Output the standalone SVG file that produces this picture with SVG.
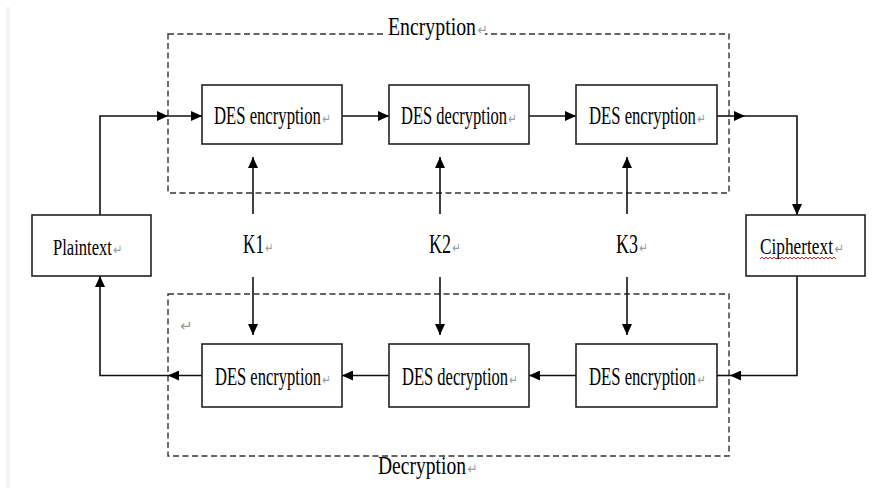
<svg xmlns="http://www.w3.org/2000/svg" width="872" height="488" viewBox="0 0 872 488">
  <style>
    .box { fill: #ffffff; stroke: #222222; stroke-width: 1.6; }
    .dash { fill: none; stroke: #333333; stroke-width: 1.4; stroke-dasharray: 6 3.5; }
    .lbl { font-family: "Liberation Serif", "Times New Roman", serif; fill: #000000; }
    .ret { font-family: "DejaVu Sans", sans-serif; fill: #9a9a9a; font-size: 15px; }
    .conn { fill: none; stroke: #111111; stroke-width: 1.6; }
    .arr { marker-end: url(#ah); }
  </style>
  <defs>
    <marker id="ah" markerUnits="userSpaceOnUse" markerWidth="11" markerHeight="10" refX="11" refY="5" orient="auto">
      <path d="M0,0 L11,5 L0,10 Z" fill="#000000"/>
    </marker>
  </defs>
  <rect x="0" y="0" width="872" height="488" fill="#ffffff"/>
  <rect x="6" y="7" width="4" height="481" fill="#f3f3f3"/>

  <g id="encryption-group">
    <rect class="dash" x="168" y="34" width="561" height="159"/>
    <rect x="386" y="26" width="99" height="14" fill="#ffffff"/>
    <text class="lbl" font-size="25" transform="translate(388 35) scale(0.792 1)">Encryption<tspan class="ret" dx="2" font-size="13">↵</tspan></text>
  </g>

  <g id="decryption-group">
    <rect class="dash" x="168" y="294" width="561" height="162"/>
    <text class="ret" x="180" y="331" font-size="14">↵</text>
    <text class="lbl" font-size="25" transform="translate(378 474) scale(0.782 1)">Decryption<tspan class="ret" dx="2" font-size="13">↵</tspan></text>
  </g>

  <g id="connectors">
    <polyline class="conn arr" points="100,215 100,116 168,116"/>
    <line class="conn arr" x1="168" y1="116" x2="202" y2="116"/>
    <line class="conn arr" x1="342" y1="116" x2="389" y2="116"/>
    <line class="conn arr" x1="529" y1="116" x2="576" y2="116"/>
    <line class="conn arr" x1="717" y1="116" x2="745" y2="116"/>
    <polyline class="conn arr" points="745,116 797,116 797,215"/>
    <line class="conn arr" x1="253" y1="214" x2="253" y2="157"/>
    <line class="conn arr" x1="440" y1="214" x2="440" y2="157"/>
    <line class="conn arr" x1="627" y1="214" x2="627" y2="157"/>
    <line class="conn arr" x1="253" y1="277" x2="253" y2="335"/>
    <line class="conn arr" x1="440" y1="277" x2="440" y2="335"/>
    <line class="conn arr" x1="627" y1="277" x2="627" y2="335"/>
    <polyline class="conn arr" points="797,276 797,375.5 730,375.5"/>
    <line class="conn" x1="730" y1="375.5" x2="717" y2="375.5"/>
    <line class="conn arr" x1="576" y1="375.5" x2="529" y2="375.5"/>
    <line class="conn arr" x1="389" y1="375.5" x2="342" y2="375.5"/>
    <line class="conn arr" x1="202" y1="375.5" x2="168" y2="375.5"/>
    <polyline class="conn arr" points="168,375.5 100,375.5 100,276"/>
  </g>

  <g id="plaintext">
    <rect class="box" x="32" y="215" width="119" height="61"/>
    <text class="lbl" font-size="23" transform="translate(53 255) scale(0.721 1)">Plaintext<tspan class="ret" dx="2">↵</tspan></text>
  </g>

  <g id="ciphertext">
    <rect class="box" x="746" y="215" width="119" height="61"/>
    <text class="lbl" font-size="23" transform="translate(760 254) scale(0.752 1)">Ciphertext<tspan class="ret" dx="2">↵</tspan></text>
    <polyline fill="none" stroke="#e02020" stroke-width="1" points="760,259 762,257 764,259 766,257 768,259 770,257 772,259 774,257 776,259 778,257 780,259 782,257 784,259 786,257 788,259 790,257 792,259 794,257 796,259 798,257 800,259 802,257 804,259 806,257 808,259 810,257 812,259 814,257 816,259 818,257 820,259 822,257 824,259 826,257 828,259 830,257 832,259 834,257 836,259"/>
  </g>

  <g id="enc1">
    <rect class="box" x="202" y="85" width="140" height="59"/>
    <text class="lbl" font-size="25" transform="translate(214 124) scale(0.667 1)">DES encryption<tspan class="ret" dx="2">↵</tspan></text>
  </g>
  <g id="enc2">
    <rect class="box" x="389" y="85" width="140" height="59"/>
    <text class="lbl" font-size="25" transform="translate(401 124) scale(0.661 1)">DES decryption<tspan class="ret" dx="2">↵</tspan></text>
  </g>
  <g id="enc3">
    <rect class="box" x="576" y="85" width="141" height="59"/>
    <text class="lbl" font-size="25" transform="translate(589 124) scale(0.667 1)">DES encryption<tspan class="ret" dx="2">↵</tspan></text>
  </g>

  <g id="k1">
    <text class="lbl" font-size="27" transform="translate(243 253) scale(0.636 1)">K1<tspan class="ret" dx="2">↵</tspan></text>
  </g>
  <g id="k2">
    <text class="lbl" font-size="27" transform="translate(429 253) scale(0.667 1)">K2<tspan class="ret" dx="2">↵</tspan></text>
  </g>
  <g id="k3">
    <text class="lbl" font-size="27" transform="translate(616 253) scale(0.667 1)">K3<tspan class="ret" dx="2">↵</tspan></text>
  </g>

  <g id="dec1">
    <rect class="box" x="202" y="344" width="140" height="63"/>
    <text class="lbl" font-size="25" transform="translate(215 385) scale(0.661 1)">DES encryption<tspan class="ret" dx="2">↵</tspan></text>
  </g>
  <g id="dec2">
    <rect class="box" x="389" y="344" width="140" height="63"/>
    <text class="lbl" font-size="25" transform="translate(402 385) scale(0.661 1)">DES decryption<tspan class="ret" dx="2">↵</tspan></text>
  </g>
  <g id="dec3">
    <rect class="box" x="576" y="344" width="141" height="63"/>
    <text class="lbl" font-size="25" transform="translate(589 385) scale(0.667 1)">DES encryption<tspan class="ret" dx="2">↵</tspan></text>
  </g>
</svg>
